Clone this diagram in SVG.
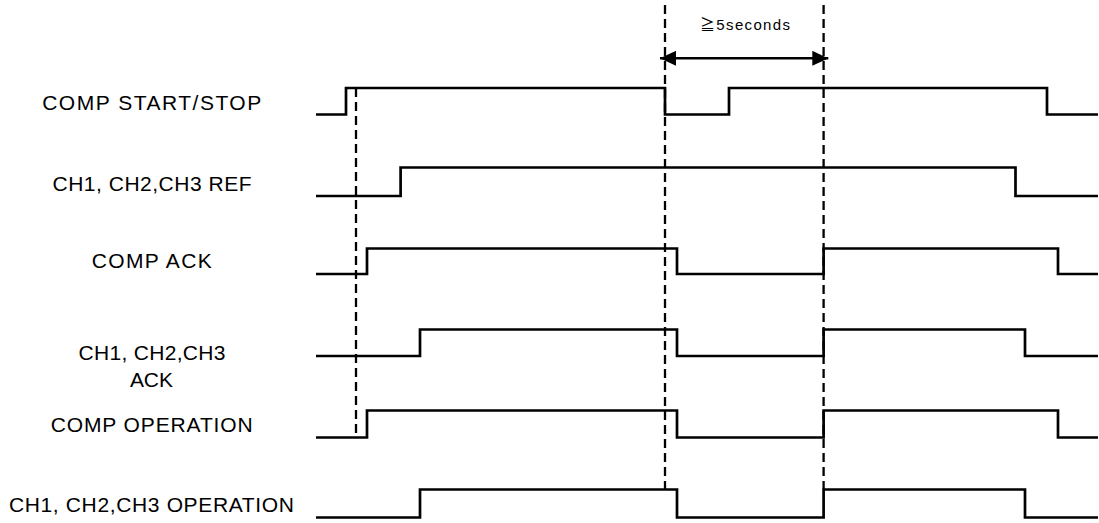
<svg xmlns="http://www.w3.org/2000/svg" width="1099" height="523" viewBox="0 0 1099 523">
<style>
.sig{fill:none;stroke:#000;stroke-width:2.7;stroke-linejoin:miter;stroke-linecap:butt}
.dash{fill:none;stroke:#000;stroke-width:2.3;stroke-dasharray:9 5}
.lbl{font-family:"Liberation Sans","Noto Sans CJK JP",sans-serif;font-size:21px;fill:#000;text-anchor:middle}
.note{font-family:"Liberation Sans","Noto Sans CJK JP",sans-serif;font-size:15px;fill:#000;text-anchor:middle}
</style>
<defs>
<marker id="ah" viewBox="0 0 16 15" refX="16" refY="7.5" markerWidth="16" markerHeight="15" markerUnits="userSpaceOnUse" orient="auto-start-reverse">
<path d="M0,0 L16,7.5 L0,15 Z" fill="#000"/>
</marker>
</defs>
<rect width="1099" height="523" fill="#fff"/>
<g id="comp-start-stop">
<text class="lbl" x="151.7" y="110" textLength="219" lengthAdjust="spacing">COMP START/STOP</text>
<path class="sig" d="M316,114.5 H346 V88 H665 V114.5 H729 V88 H1047 V114.5 H1098"/>
</g>
<g id="ch-ref">
<text class="lbl" x="152" y="190.7" textLength="199" lengthAdjust="spacing">CH1, CH2,CH3 REF</text>
<path class="sig" d="M316,196 H400.6 V167.5 H1015.5 V196 H1098"/>
</g>
<g id="comp-ack">
<text class="lbl" x="151.7" y="268.3" textLength="120" lengthAdjust="spacing">COMP ACK</text>
<path class="sig" d="M316,274 H367 V248.5 H677 V274 H823.6 V248.5 H1058 V274 H1098"/>
</g>
<g id="ch-ack">
<text class="lbl" x="152" y="360" textLength="147" lengthAdjust="spacing">CH1, CH2,CH3</text>
<text class="lbl" x="151.4" y="387" textLength="43" lengthAdjust="spacing">ACK</text>
<path class="sig" d="M316,356 H420 V329.5 H677 V356 H823.6 V329.5 H1025 V356 H1098"/>
</g>
<g id="comp-operation">
<text class="lbl" x="151.7" y="431.7" textLength="202" lengthAdjust="spacing">COMP OPERATION</text>
<path class="sig" d="M316,437.5 H367 V410.5 H677 V437.5 H823.6 V410.5 H1058 V437.5 H1098"/>
</g>
<g id="ch-operation">
<text class="lbl" x="151.4" y="511.7" textLength="285" lengthAdjust="spacing">CH1, CH2,CH3 OPERATION</text>
<path class="sig" d="M316,517.5 H420 V489.5 H677 V517.5 H823.6 V489.5 H1025 V517.5 H1098"/>
</g>
<g id="connectors">
<line class="dash" x1="356" y1="88" x2="356" y2="437"/>
<line class="dash" x1="665" y1="5" x2="665" y2="489"/>
<line class="dash" x1="823.6" y1="5" x2="823.6" y2="489"/>
<line x1="660" y1="58.3" x2="828.3" y2="58.3" stroke="#000" stroke-width="2.5" marker-start="url(#ah)" marker-end="url(#ah)"/>
<text class="note" x="745" y="30" textLength="90" lengthAdjust="spacing">≧5seconds</text>
</g>
</svg>
